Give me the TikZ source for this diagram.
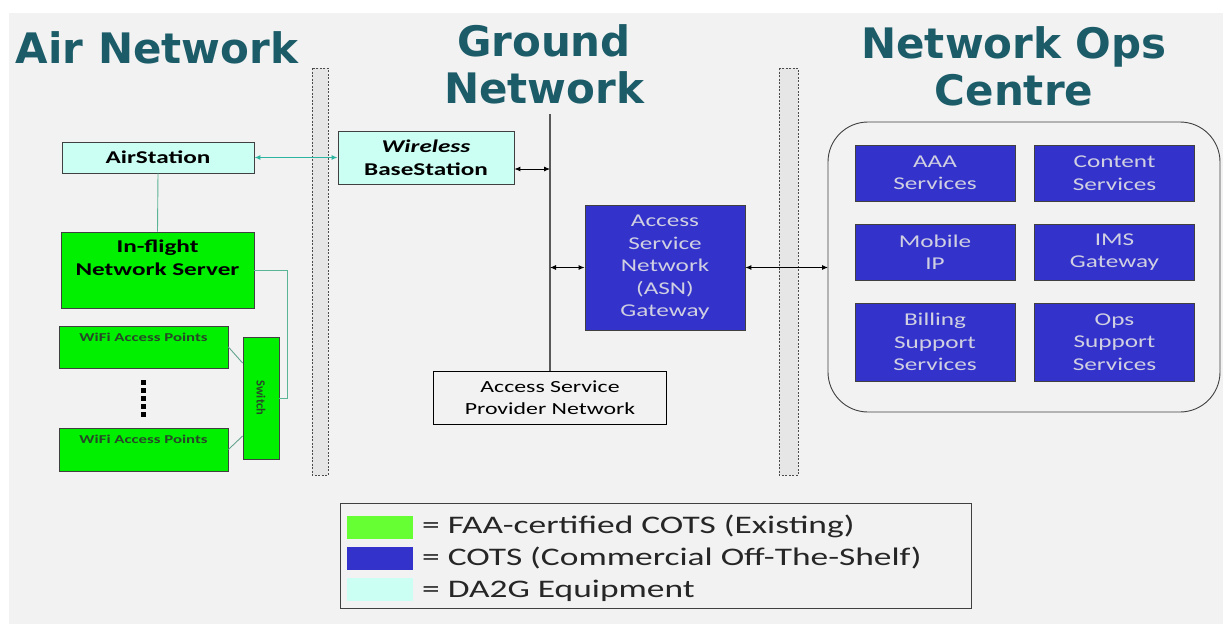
\documentclass[tikz,border=0pt]{standalone}
\usepackage{fontspec}
\setmainfont{Carlito}[FakeStretch=1.4]
\newfontfamily\titlefont{DejaVu Sans}
\newfontfamily\plainfont{Carlito}
\usetikzlibrary{arrows.meta}
\definecolor{bggrey}{RGB}{242,242,242}
\definecolor{bargrey}{RGB}{230,230,230}
\definecolor{boxline}{RGB}{64,64,64}
\definecolor{titleteal}{RGB}{28,92,104}
\definecolor{dacyan}{RGB}{204,255,243}
\definecolor{faagreen}{RGB}{0,240,0}
\definecolor{faalight}{RGB}{102,255,51}
\definecolor{cotsblue}{RGB}{51,51,204}
\definecolor{bluetext}{RGB}{208,208,226}
\definecolor{airline}{RGB}{90,180,150}
\definecolor{airlink}{RGB}{45,180,160}
\definecolor{wifitext}{RGB}{40,70,40}
\begin{document}
\begin{tikzpicture}[x=1pt,y=-1pt,
    title/.style={font=\titlefont\bfseries\fontsize{42}{47}\selectfont, text=titleteal, align=center, inner sep=0pt},
    box/.style={draw=boxline, line width=0.8pt, inner sep=0pt, align=center},
    cyanbox/.style={box, fill=dacyan, font=\bfseries\fontsize{18}{23}\selectfont},
    greenbox/.style={box, fill=faagreen},
    bluebox/.style={box, fill=cotsblue, text=bluetext, minimum width=160, minimum height=56, font=\fontsize{18}{22.5}\selectfont},
    sepbar/.style={fill=bargrey, draw=black!70, line width=0.7pt, dash pattern=on 2pt off 1.5pt},
    link/.style={{Latex[length=6pt,width=5pt]}-{Latex[length=6pt,width=5pt]}, line width=0.9pt},
    swatch/.style={inner sep=0pt, minimum width=66, minimum height=23},
    keytxt/.style={inner sep=0pt, text=black!85, font=\fontsize{25.3}{29}\selectfont}]
    \fill[white] (0,0) rectangle (1223,624);
    \fill[bggrey] (9,13) rectangle (1223,624);
    \useasboundingbox (0,0) rectangle (1223,624);
    \draw[sepbar] (312,68) rectangle (328,475);
    \draw[sepbar] (779,68) rectangle (798,475);
    \node[title, anchor=base] (airtitle) at (157,63) {Air Network};
    \node[title, anchor=base] (gndtitle) at (544,103) {Ground\\Network};
    \node[title, anchor=base] (noctitle) at (1014,105) {Network Ops\\Centre};
    \node[cyanbox, minimum width=192, minimum height=31] (air) at (158,157.5) {AirStation};
    \node[greenbox, minimum width=193, minimum height=76] (server) at (157.5,270) {};
    \node[inner sep=0pt, anchor=north, align=center, font=\bfseries\fontsize{18}{23}\selectfont] (servertxt) at ([yshift=-8.5]server.north) {In-flight\\Network Server};
    \node[greenbox, minimum width=169, minimum height=42] (wifiA) at (143.5,347) {};
    \node[inner sep=0pt, anchor=north, text=wifitext, font=\bfseries\fontsize{12}{14}\selectfont] (wifiAtxt) at ([yshift=-7.5]wifiA.north) {WiFi Access Points};
    \node[greenbox, minimum width=169, minimum height=43] (wifiB) at (143.5,449.5) {};
    \node[inner sep=0pt, anchor=north, text=wifitext, font=\bfseries\fontsize{12}{14}\selectfont] (wifiBtxt) at ([yshift=-7.5]wifiB.north) {WiFi Access Points};
    \node[greenbox, minimum width=36, minimum height=122] (sw) at (261,398) {};
    \node[rotate=-90, inner sep=0pt, text=wifitext, font=\plainfont\bfseries\fontsize{12.5}{14}\selectfont] (swtxt) at (sw.center) {Switch};
    \foreach \y in {382,390,398,406,414}
        \fill (140.5,\y-2.5) rectangle (145.5,\y+2.5);
    \draw[airline, line width=0.9pt] (air.south) -- (server.north);
    \draw[airline, line width=0.9pt] (server.east) -| ([xshift=8]sw.east) -- (sw.east);
    \draw[airline!70!gray, line width=0.9pt] (wifiA.east) -- ([yshift=35]sw.west);
    \draw[airline!70!gray, line width=0.9pt] (wifiB.east) -- ([yshift=-38]sw.west);
    \node[cyanbox, minimum width=176, minimum height=53] (bs) at (426,157.5) {\textit{Wireless}\\BaseStation};
    \draw[link, airlink, line width=1.2pt] (air.east) -- (bs.west);
    \node[box, draw=black, minimum width=233, minimum height=53, font=\fontsize{17}{21.5}\selectfont] (asp) at (550,397.5) {Access Service\\Provider Network};
    \coordinate (bustop) at (550,114);
    \coordinate (busbs) at (550,169);
    \coordinate (busasn) at (550,267.5);
    \draw[black!65, line width=1.4pt] (bustop) -- (asp.north);
    \node[bluebox, minimum height=125] (asn) at (665,267.5) {Access\\Service\\Network\\(ASN)\\Gateway};
    \draw[link] (bs.east |- busbs) -- (busbs);
    \draw[link] (busasn) -- (asn.west);
    \draw[boxline, line width=0.9pt, rounded corners=40] (828,122) rectangle (1220,412);
    \coordinate (nocin) at (828,267.5);
    \draw[link] (asn.east) -- (nocin);
    \node[bluebox] (aaa) at (935,173) {AAA\\Services};
    \node[bluebox] (content) at (1114.5,173) {Content\\Services};
    \node[bluebox] (mip) at (935,252) {Mobile\\IP};
    \node[bluebox] (ims) at (1114.5,252) {IMS\\Gateway};
    \node[bluebox, minimum height=78] (bss) at (935,342) {Billing\\Support\\Services};
    \node[bluebox, minimum height=78] (oss) at (1114.5,342) {Ops\\Support\\Services};
    \node[box, minimum width=631, minimum height=105] (legend) at (655.5,556) {};
    \node[swatch, fill=faalight] (keyfaa) at (380,527) {};
    \node[swatch, fill=cotsblue] (keycots) at (380,558) {};
    \node[swatch, fill=dacyan] (keyda2g) at (380,589.5) {};
    \node[keytxt, anchor=base west] (keyfaatxt) at (422,533) {= FAA-certified COTS (Existing)};
    \node[keytxt, anchor=base west] (keycotstxt) at (422,565) {= COTS (Commercial Off-The-Shelf)};
    \node[keytxt, anchor=base west] (keyda2gtxt) at (422,597) {= DA2G Equipment};
\end{tikzpicture}
\end{document}
